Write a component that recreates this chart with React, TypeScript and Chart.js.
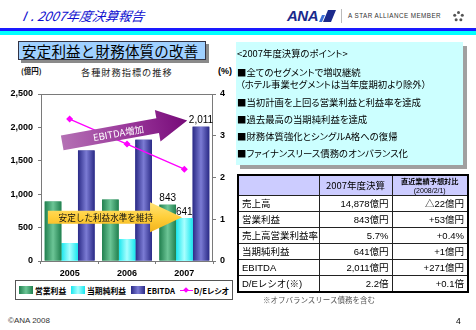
import React, { useEffect, useRef } from 'react';
import { Chart, registerables } from 'chart.js';

Chart.register(...registerables);

// ---------- data ----------
const years = ['2005', '2006', '2007'];
const seriesNames = ['営業利益', '当期純利益', 'EBITDA', 'D/Eレシオ'];
const operatingIncome = [891, 919, 843];
const netIncome = [267, 326, 641];
const ebitda = [1655, 1815, 2011];
const deRatio = [3.4, 2.8, 2.2];
const leftAxisMax = 2500;
const leftAxisStep = 500;
const rightAxisMax = 4;
const rightAxisStep = 1;
const labelledYearIndex = 2;

const chartTitle = '各種財務指標の推移';
const leftUnit = '(億円)';
const rightUnit = '(%)';
const arrowTexts = ['EBITDA増加', '安定した利益水準を維持'];
// annotation arrows anchored in axis units: [category index, left-axis value]
const ebitdaArrow = { from: [-0.13, 1770], to: [2.05, 2105] };
const profitArrow = { from: [-0.38, 655], to: [1.96, 655] };

const headerTitle = 'Ⅰ. 2007年度決算報告';
const slideTitle = '安定利益と財務体質の改善';
const pointsTitle = '<2007年度決算のポイント>';
const pointLines = [
  '■全てのセグメントで増収継続',
  '（ホテル事業セグメントは当年度期初より除外）',
  '■当初計画を上回る営業利益と利益率を達成',
  '■過去最高の当期純利益を達成',
  '■財務体質強化とシングルA格への復帰',
  '■ファイナンスリース債務のオンバランス化',
];
const tableHeaders = ['', '2007年度決算', '直近業績予想対比', '(2008/2/1)'];
const rowLabels = ['売上高', '営業利益', '売上高営業利益率', '当期純利益', 'EBITDA', 'D/Eレシオ(※)'];
const resultValues = ['14,878億円', '843億円', '5.7%', '641億円', '2,011億円', '2.2倍'];
const vsForecast = ['△22億円', '+53億円', '+0.4%', '+1億円', '+271億円', '+0.1倍'];
const footnote = '※オフバランスリース債務を含む';
const copyright = '©ANA 2008';
const pageNo = '4';

// ---------- styles ----------
const JP = '"Noto Sans CJK JP", sans-serif';
const NUM = '"Liberation Sans", "Noto Sans CJK JP", sans-serif';
const barBase = ['#3a9a6a', '#33ffff', '#3a3a99'];
const barShades = [
  ['#21804f', '#6cc596'],
  ['#19e6ee', '#a8ffff'],
  ['#2a2a86', '#7b7bd4'],
];
const lineColor = '#ff00ff';

function drawArrow(
  ctx: CanvasRenderingContext2D,
  x0: number, y0: number, x1: number, y1: number,
  bh: number, hh: number, hl: number,
  makeFill: (ctx: CanvasRenderingContext2D, L: number, hh: number) => any,
  text: string, font: string, color: string, textX: number
) {
  const dx = x1 - x0, dy = y1 - y0;
  const L = Math.hypot(dx, dy);
  const ang = Math.atan2(dy, dx);
  ctx.save();
  ctx.translate(x0, y0);
  ctx.rotate(ang);
  ctx.beginPath();
  ctx.moveTo(0, -bh);
  ctx.lineTo(L - hl, -bh);
  ctx.lineTo(L - hl, -hh);
  ctx.lineTo(L, 0);
  ctx.lineTo(L - hl, hh);
  ctx.lineTo(L - hl, bh);
  ctx.lineTo(0, bh);
  ctx.closePath();
  ctx.fillStyle = makeFill(ctx, L, hh);
  ctx.fill();
  ctx.font = font;
  ctx.fillStyle = color;
  ctx.textAlign = 'center';
  ctx.textBaseline = 'middle';
  ctx.fillText(text, textX, 0.5);
  ctx.restore();
}

const framePlugin = {
  id: 'frame',
  beforeDatasetsDraw(chart: any) {
    const { ctx, chartArea: a } = chart;
    ctx.save();
    ctx.strokeStyle = '#7a7a7a';
    ctx.lineWidth = 1;
    ctx.strokeRect(Math.round(a.left) + 0.5, Math.round(a.top) + 0.5, Math.round(a.right - a.left) - 1, Math.round(a.bottom - a.top));
    ctx.restore();
  },
};

const barShadePlugin = {
  id: 'barShade',
  afterDatasetDraw(chart: any, args: any) {
    const meta = args.meta;
    if (meta.type !== 'bar') return;
    const sh = barShades[args.index];
    const ctx = chart.ctx;
    ctx.save();
    meta.data.forEach((el: any) => {
      const p = el.getProps(['x', 'y', 'base', 'width'], true);
      const l = p.x - p.width / 2;
      const g = ctx.createLinearGradient(l, 0, l + p.width, 0);
      g.addColorStop(0, sh[0]);
      g.addColorStop(0.5, sh[1]);
      g.addColorStop(1, sh[0]);
      ctx.fillStyle = g;
      ctx.fillRect(l, p.y, p.width, p.base - p.y);
    });
    ctx.restore();
  },
};

const valueLabelPlugin = {
  id: 'valueLabels',
  afterDatasetsDraw(chart: any) {
    const ctx = chart.ctx;
    ctx.save();
    ctx.font = '10px ' + NUM;
    ctx.fillStyle = '#000';
    ctx.textAlign = 'center';
    ctx.textBaseline = 'bottom';
    chart.data.datasets.forEach((ds: any, i: number) => {
      const meta = chart.getDatasetMeta(i);
      if (meta.type !== 'bar') return;
      const el = meta.data[labelledYearIndex];
      const p = el.getProps(['x', 'y'], true);
      ctx.fillText(Number(ds.data[labelledYearIndex]).toLocaleString('en-US'), p.x, p.y - 1);
    });
    ctx.restore();
  },
};

const arrowPlugin = {
  id: 'arrows',
  afterDraw(chart: any) {
    const ctx = chart.ctx;
    const xs = chart.scales.x;
    const ys = chart.scales.y;
    const px = (pt: number[]) => [xs.getPixelForValue(pt[0]), ys.getPixelForValue(pt[1])];
    const [a0x, a0y] = px(ebitdaArrow.from);
    const [a1x, a1y] = px(ebitdaArrow.to);
    drawArrow(ctx, a0x, a0y, a1x, a1y, 7.5, 16, 30, (c, L) => {
      const g = c.createLinearGradient(0, 0, L, 0);
      g.addColorStop(0, '#b470b4');
      g.addColorStop(0.55, '#99369a');
      g.addColorStop(1, '#760a78');
      return g;
    }, arrowTexts[0], '9.5px ' + JP, '#ffffff', 57);
    const [b0x, b0y] = px(profitArrow.from);
    const [b1x, b1y] = px(profitArrow.to);
    drawArrow(ctx, b0x, b0y, b1x, b1y, 6.5, 15, 32, (c, L, hh) => {
      const g = c.createLinearGradient(0, -hh, 0, hh);
      g.addColorStop(0, '#ffe47a');
      g.addColorStop(0.5, '#ffcf3a');
      g.addColorStop(1, '#f2b21c');
      return g;
    }, arrowTexts[1], '8.6px ' + JP, '#111', 58);
  },
};

function ChartBox() {
  const ref = useRef<HTMLCanvasElement | null>(null);
  useEffect(() => {
    if (!ref.current) return;
    const mkBar = (i: number, data: number[]) => ({
      type: 'bar' as const,
      label: seriesNames[i],
      data,
      backgroundColor: barBase[i],
      yAxisID: 'y',
      order: 1,
      barPercentage: 1,
      categoryPercentage: 0.87,
    });
    const chart = new Chart(ref.current, {
      type: 'bar',
      data: {
        labels: years,
        datasets: [
          mkBar(0, operatingIncome),
          mkBar(1, netIncome),
          mkBar(2, ebitda),
          {
            type: 'line' as const,
            label: seriesNames[3],
            data: deRatio,
            yAxisID: 'y1',
            borderColor: lineColor,
            backgroundColor: lineColor,
            borderWidth: 1.3,
            pointStyle: 'rectRot',
            pointRadius: 2.6,
            order: 0,
          } as any,
        ],
      },
      options: {
        animation: false,
        responsive: false,
        events: [],
        layout: { padding: { top: 30, left: 0, right: 0, bottom: 0 } },
        plugins: { legend: { display: false }, tooltip: { enabled: false }, title: { display: false } },
        scales: {
          x: {
            grid: { drawOnChartArea: false, drawTicks: true, tickLength: 3, color: '#7a7a7a' },
            border: { display: false },
            ticks: { font: { size: 9, weight: 'bold', family: NUM }, color: '#000', padding: 4 },
            afterFit: (s: any) => { s.height = 18; },
          },
          y: {
            position: 'left',
            min: 0,
            max: leftAxisMax,
            grid: { drawOnChartArea: false, drawTicks: true, tickLength: 3, color: '#7a7a7a' },
            border: { display: false },
            ticks: {
              stepSize: leftAxisStep,
              font: { size: 9, weight: 'bold', family: NUM },
              color: '#000',
              padding: 5,
              callback: (v: any) => Number(v).toLocaleString('en-US'),
            },
            afterFit: (s: any) => { s.width = 41; },
          },
          y1: {
            position: 'right',
            min: 0,
            max: rightAxisMax,
            grid: { drawOnChartArea: false, drawTicks: true, tickLength: 3, color: '#7a7a7a' },
            border: { display: false },
            ticks: { stepSize: rightAxisStep, font: { size: 9, weight: 'bold', family: NUM }, color: '#000', padding: 4 },
            afterFit: (s: any) => { s.width = 27; },
          },
        },
      } as any,
      plugins: [framePlugin, barShadePlugin, valueLabelPlugin, arrowPlugin],
    });
    return () => chart.destroy();
  }, []);
  return <canvas ref={ref} width={240} height={215} style={{ position: 'absolute', left: 0, top: 64, width: 240, height: 215 }} />;
}

const abs = (l: number, t: number, extra: any = {}) => ({ position: 'absolute' as const, left: l, top: t, ...extra });

function Legend() {
  const sw = (bg: string) => (
    <span style={{ display: 'inline-block', width: 14, height: 8, background: bg, marginRight: 2, flex: 'none' }} />
  );
  const item = { display: 'flex', alignItems: 'center' } as any;
  const grad = (i: number) => `linear-gradient(90deg, ${barShades[i][0]}, ${barShades[i][1]}, ${barShades[i][0]})`;
  return (
    <div style={abs(15, 280, { width: 210, height: 18, border: '1px solid #555', background: '#fff', display: 'flex', alignItems: 'center', justifyContent: 'space-between', padding: '0 3px', boxSizing: 'content-box', fontFamily: JP, fontWeight: 'bold', fontSize: 7.8, whiteSpace: 'nowrap', fontFeatureSettings: '"palt"' })}>
      <div style={item}>{sw(grad(0))}{seriesNames[0]}</div>
      <div style={item}>{sw(grad(1))}{seriesNames[1]}</div>
      <div style={item}>{sw(grad(2))}{seriesNames[2]}</div>
      <div style={item}>
        <span style={{ position: 'relative', display: 'inline-block', width: 13, height: 8, marginRight: 1, flex: 'none' }}>
          <span style={{ position: 'absolute', left: 0, top: 3.5, width: 13, height: 1.5, background: lineColor }} />
          <span style={{ position: 'absolute', left: 4.5, top: 2, width: 4, height: 4, background: lineColor, transform: 'rotate(45deg)' }} />
        </span>
        {seriesNames[3]}
      </div>
    </div>
  );
}

function Header() {
  return (
    <>
      <div style={abs(18, 6, { fontFamily: JP, fontStyle: 'italic', fontSize: 13, color: '#1010d0', lineHeight: '20px', transform: 'skewX(-10deg)' })}>{headerTitle}</div>
      <div style={abs(287, 7, { fontFamily: NUM, fontStyle: 'italic', fontWeight: 'bold', fontSize: 15, color: '#1b2a8c', lineHeight: '18px', letterSpacing: -0.5 })}>ANA</div>
      <svg style={abs(319, 10)} width={18} height={13} viewBox="0 0 18 13">
        <polygon points="4,12 9,0 17,0 12,12" fill="#1b2a8c" />
        <polygon points="0,12 3,5 6,5 3,12" fill="#3a6fd8" />
      </svg>
      <div style={abs(341, 9, { width: 1, height: 14, background: '#bbb' })} />
      <div style={abs(348, 10, { fontFamily: NUM, fontSize: 6.3, color: '#333', lineHeight: '12px', letterSpacing: 0.45 })}>A STAR ALLIANCE MEMBER</div>
      <svg style={abs(452, 10)} width={13} height={13} viewBox="0 0 13 13">
        {[0, 1, 2, 3, 4].map((k) => {
          const a = (k * 72 - 90) * Math.PI / 180;
          const cx = 6.5 + Math.cos(a) * 4;
          const cy = 6.5 + Math.sin(a) * 4;
          return <circle key={k} cx={cx} cy={cy} r={1.5} fill="#555" />;
        })}
      </svg>
      <div style={abs(0, 28, { width: 476, height: 3, background: '#1a1aff' })} />
      <div style={abs(0, 31, { width: 476, height: 4, background: '#00ffff' })} />
      <div style={abs(18, 41, { width: 188, height: 19, background: '#9fd0ff', border: '1px solid #334', boxShadow: '3px 3px 0 #8a8a8a', boxSizing: 'border-box' })} />
      <div style={abs(22, 40, { fontFamily: JP, fontSize: 14.5, lineHeight: '21px', color: '#000', letterSpacing: 0.2 })}>{slideTitle}</div>
    </>
  );
}

function Points() {
  const tops = [45, 64, 76, 94, 111, 128, 145];
  const lines = [pointsTitle, ...pointLines];
  return (
    <>
      <div style={abs(236, 42, { width: 227, height: 123, background: '#ccffff', boxShadow: '4px 4px 0 #a0a0a0' })} />
      {lines.map((t, i) => (
        <div key={i} style={abs(i === 2 ? 240 : 237, tops[i], { fontFamily: JP, fontSize: 9.4, lineHeight: '16px', color: '#000', fontFeatureSettings: '"palt"', whiteSpace: 'nowrap' })}>{t}</div>
      ))}
    </>
  );
}

function Table() {
  const cell: any = { border: '1px solid #222', padding: '0 3px', height: 15, fontSize: 9.5, lineHeight: '15px', whiteSpace: 'nowrap', overflow: 'hidden' };
  return (
    <>
      <table style={abs(237, 174, { borderCollapse: 'collapse', border: '2px solid #000', fontFamily: NUM, background: '#fff', tableLayout: 'fixed', width: 230 })}>
        <colgroup>
          <col style={{ width: 81 }} />
          <col style={{ width: 73 }} />
          <col style={{ width: 76 }} />
        </colgroup>
        <tbody>
          <tr style={{ background: '#ccccff' }}>
            <td style={{ ...cell, height: 19 }}>{tableHeaders[0]}</td>
            <td style={{ ...cell, height: 19, textAlign: 'center', fontFamily: JP, fontSize: 9.5 }}>{tableHeaders[1]}</td>
            <td style={{ ...cell, height: 19, textAlign: 'center', padding: 0, lineHeight: '9px' }}>
              <div style={{ fontFamily: JP, fontWeight: 'bold', fontSize: 7.2 }}>{tableHeaders[2]}</div>
              <div style={{ fontFamily: NUM, fontSize: 7 }}>{tableHeaders[3]}</div>
            </td>
          </tr>
          {rowLabels.map((r, i) => (
            <tr key={i}>
              <td style={{ ...cell, fontFamily: NUM }}>{r}</td>
              <td style={{ ...cell, textAlign: 'right' }}>{resultValues[i]}</td>
              <td style={{ ...cell, textAlign: 'right' }}>{vsForecast[i]}</td>
            </tr>
          ))}
        </tbody>
      </table>
      <div style={abs(263, 294, { fontFamily: JP, fontSize: 7.5, color: '#555', lineHeight: '11px', whiteSpace: 'nowrap' })}>{footnote}</div>
    </>
  );
}

export default function App() {
  return (
    <div style={{ position: 'fixed', left: 0, top: 0, width: 476, height: 330, background: '#fff', overflow: 'hidden' }}>
      <Header />
      <div style={abs(21, 65, { fontFamily: JP, fontWeight: 'bold', fontSize: 7.5, lineHeight: '11px', color: '#111' })}>{leftUnit}</div>
      <div style={abs(81, 65, { fontFamily: JP, fontSize: 9.2, lineHeight: '14px', color: '#222', letterSpacing: 1 })}>{chartTitle}</div>
      <div style={abs(218, 65, { fontFamily: NUM, fontWeight: 'bold', fontSize: 9, lineHeight: '12px', color: '#000' })}>{rightUnit}</div>
      <ChartBox />
      <Legend />
      <Points />
      <Table />
      <div style={abs(8, 315, { fontFamily: NUM, fontSize: 8, color: '#333', lineHeight: '12px' })}>{copyright}</div>
      <div style={abs(456, 315, { fontFamily: NUM, fontSize: 8.5, color: '#000', lineHeight: '12px' })}>{pageNo}</div>
    </div>
  );
}
